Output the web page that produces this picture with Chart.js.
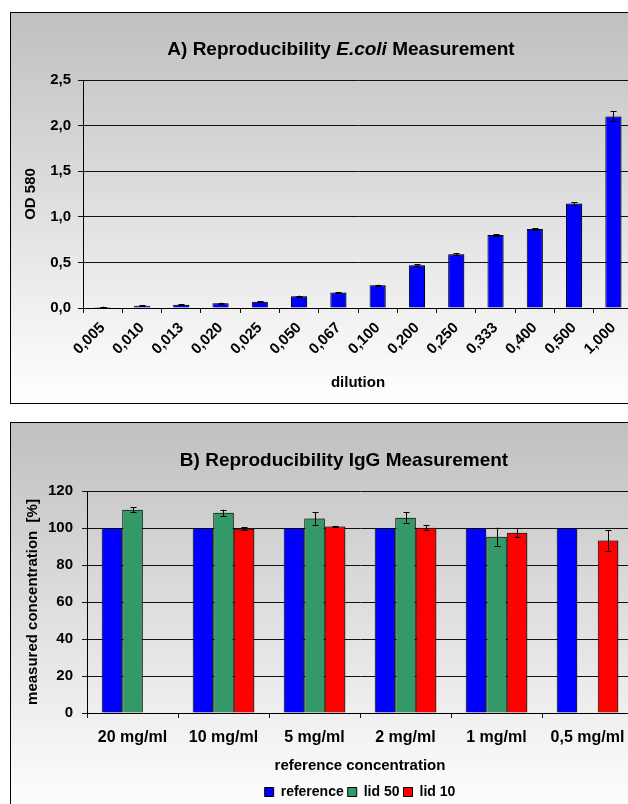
<!DOCTYPE html>
<html>
<head>
<meta charset="utf-8">
<script src="https://cdn.jsdelivr.net/npm/chart.js@4.4.1/dist/chart.umd.min.js"></script>
<style>
  html, body { margin:0; padding:0; overflow:hidden; background:#fff; }
  body { width:628px; height:804px; position:relative; }
  .frame { position:absolute; left:10px; width:680px; height:390px; border:1px solid #000;
           background:linear-gradient(to bottom, #c0c0c0 0%, #ffffff 100%); }
  .frame canvas { position:absolute; left:0; top:0; display:block; }
  .title { position:absolute; width:420px; text-align:center; font-family:'Liberation Sans', Arial, sans-serif;
           font-weight:bold; font-size:19px; line-height:22px; color:#000; z-index:2; white-space:nowrap; }
</style>
</head>
<body>
<div class="frame" id="frameA" style="top:12px;">
  <div class="title" style="left:120px; top:25px;">A) Reproducibility <i>E.coli</i> Measurement</div>
  <canvas id="cA" width="680" height="390"></canvas>
</div>
<div class="frame" id="frameB" style="top:422px;">
  <div class="title" style="left:123px; top:26px;">B) Reproducibility IgG Measurement</div>
  <canvas id="cB" width="680" height="390"></canvas>
</div>
<script>
// ---------- Data: chart A ----------
const dilutions = ['0,005','0,010','0,013','0,020','0,025','0,050','0,067','0,100','0,200','0,250','0,333','0,400','0,500','1,000'];
const od580     = [0.012, 0.025, 0.035, 0.053, 0.068, 0.13, 0.17, 0.25, 0.47, 0.59, 0.80, 0.865, 1.145, 2.10];
const od580Err  = [0.004, 0.004, 0.004, 0.005, 0.005, 0.006, 0.006, 0.006, 0.012, 0.010, 0.010, 0.010, 0.015, 0.055];
const yTicksA   = ['0,0','0,5','1,0','1,5','2,0','2,5'];

// ---------- Data: chart B ----------
const concLabels = ['20 mg/ml','10 mg/ml','5 mg/ml','2 mg/ml','1 mg/ml','0,5 mg/ml'];
const reference  = [100, 100, 100, 100, 100, 100];
const lid50      = [109.8, 108.2, 105.2, 105.6, 95.3, null];
const lid50Err   = [1.4, 1.7, 3.4, 2.8, 4.9, null];
const lid10      = [null, 99.6, 100.8, 100.2, 97.5, 93.2];
const lid10Err   = [null, 0.9, 0.3, 1.5, 2.3, 5.5];
const yTicksB    = ['0','20','40','60','80','100','120'];

Chart.defaults.font.family = "'Liberation Sans', Arial, sans-serif";
Chart.defaults.font.weight = 'bold';
Chart.defaults.color = '#000';

const errorBarPlugin = {
  id: 'errorBars',
  beforeDatasetsDraw(chart) {
    const ctx = chart.ctx;
    ctx.save();
    ctx.shadowColor = 'rgba(0,0,0,0.35)';
    ctx.shadowOffsetX = 2;
    ctx.shadowOffsetY = 0;
    ctx.shadowBlur = 0;
  },
  afterDatasetsDraw(chart, args, opts) {
    const ctx = chart.ctx;
    ctx.restore();
    const yScale = chart.scales.y;
    ctx.save();
    ctx.strokeStyle = '#000';
    ctx.lineWidth = 1;
    chart.data.datasets.forEach((ds, i) => {
      const errs = opts.errors[i];
      if (!errs) return;
      const meta = chart.getDatasetMeta(i);
      meta.data.forEach((el, j) => {
        const v = ds.data[j], e = errs[j];
        if (v == null || e == null) return;
        const x = Math.round(el.x) + 0.5;
        const yT = yScale.getPixelForValue(v + e);
        const yB = yScale.getPixelForValue(v - e);
        const cap = 3;
        ctx.beginPath();
        ctx.moveTo(x, yT); ctx.lineTo(x, yB);
        ctx.moveTo(x - cap, Math.round(yT) + 0.5); ctx.lineTo(x + cap, Math.round(yT) + 0.5);
        ctx.moveTo(x - cap, Math.round(yB) + 0.5); ctx.lineTo(x + cap, Math.round(yB) + 0.5);
        ctx.stroke();
      });
    });
    ctx.restore();
  }
};

const gridCol = '#111';

// ---------- Chart A ----------
new Chart(document.getElementById('cA'), {
  type: 'bar',
  plugins: [errorBarPlugin],
  data: {
    labels: dilutions,
    datasets: [{
      label: 'OD 580',
      data: od580,
      backgroundColor: '#0000ff',
      borderColor: '#000',
      borderWidth: 1,
      categoryPercentage: 0.41,
      barPercentage: 1
    }]
  },
  options: {
    responsive: false,
    animation: false,
    layout: { padding: { top: 67, right: 58, bottom: 0, left: 0 } },
    plugins: {
      legend: { display: false },
      tooltip: { enabled: false },
      errorBars: { errors: [od580Err] }
    },
    scales: {
      x: {
        grid: { display: true, drawOnChartArea: false, drawTicks: true, tickLength: 5, color: gridCol, offset: true },
        border: { display: true, color: '#000', width: 1 },
        ticks: { minRotation: 45, maxRotation: 45, autoSkip: false, padding: 6, font: { size: 15, weight: 'bold' } },
        title: { display: true, text: 'dilution', font: { size: 15, weight: 'bold' }, padding: { top: 0, bottom: 11 } },
        afterFit: s => { s.height = 95; }
      },
      y: {
        min: 0, max: 2.5,
        ticks: { stepSize: 0.5, padding: 7, font: { size: 15, weight: 'bold' },
                 callback: (v, i) => yTicksA[i] },
        grid: { color: gridCol, tickLength: 5 },
        border: { display: true, color: '#000', width: 1 },
        title: { display: true, text: 'OD 580', font: { size: 15, weight: 'bold' }, padding: { top: 11, bottom: 0 } },
        afterFit: s => { s.width = 72; }
      }
    }
  }
});

// ---------- Chart B ----------
new Chart(document.getElementById('cB'), {
  type: 'bar',
  plugins: [errorBarPlugin],
  data: {
    labels: concLabels,
    datasets: [
      { label: 'reference', data: reference, backgroundColor: '#0000ff', borderColor: '#000', borderWidth: 1 },
      { label: 'lid 50',    data: lid50,     backgroundColor: '#339966', borderColor: '#000', borderWidth: 1 },
      { label: 'lid 10',    data: lid10,     backgroundColor: '#ff0000', borderColor: '#000', borderWidth: 1 }
    ]
  },
  options: {
    responsive: false,
    animation: false,
    datasets: { bar: { categoryPercentage: 0.677, barPercentage: 1 } },
    layout: { padding: { top: 68, right: 58, bottom: 4, left: 0 } },
    plugins: {
      legend: {
        display: true, position: 'bottom', fullSize: false,
        labels: { boxWidth: 9, boxHeight: 9, padding: 4, font: { size: 14, weight: 'bold' }, color: '#000' }
      },
      tooltip: { enabled: false },
      errorBars: { errors: [null, lid50Err, lid10Err] }
    },
    scales: {
      x: {
        grid: { display: true, drawOnChartArea: false, drawTicks: true, tickLength: 5, color: gridCol, offset: true },
        border: { display: true, color: '#000', width: 1 },
        ticks: { autoSkip: false, maxRotation: 0, padding: 10, font: { size: 16, weight: 'bold' } },
        title: { display: true, text: 'reference concentration', font: { size: 15, weight: 'bold' }, padding: { top: 0, bottom: 6 } },
        afterFit: s => { s.height = 68; }
      },
      y: {
        min: 0, max: 120,
        ticks: { stepSize: 20, padding: 9, font: { size: 15, weight: 'bold' },
                 callback: (v, i) => yTicksB[i] },
        grid: { color: gridCol, tickLength: 5 },
        border: { display: true, color: '#000', width: 1 },
        title: { display: true, text: 'measured concentration  [%]', font: { size: 15, weight: 'bold' }, padding: { top: 13, bottom: 0 } },
        afterFit: s => { s.width = 76; }
      }
    }
  }
});
</script>
</body>
</html>
